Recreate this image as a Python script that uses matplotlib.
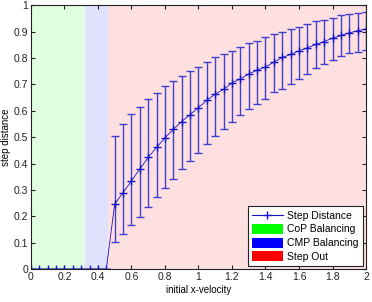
import numpy as np
import matplotlib
matplotlib.use("Agg")
import matplotlib.pyplot as plt
from matplotlib.lines import Line2D
from matplotlib.patches import Patch

plt.rcParams["font.family"] = ["Liberation Sans", "DejaVu Sans"]

# ── data ────────────────────────────────────────────────────────────────────
velocity = np.round(np.arange(0, 2.0001, 0.05), 2)
step_mean = [0, 0, 0, 0, 0, 0, 0, 0, 0, 0,
             0.246, 0.290, 0.334, 0.379, 0.423, 0.461, 0.497, 0.529, 0.559,
             0.585, 0.612, 0.639, 0.663, 0.681, 0.705, 0.721, 0.739, 0.754,
             0.766, 0.784, 0.802, 0.813, 0.827, 0.838, 0.851, 0.862, 0.875,
             0.885, 0.895, 0.903, 0.910]
step_upper = [0, 0, 0, 0, 0, 0, 0, 0, 0, 0,
              0.504, 0.549, 0.586, 0.615, 0.645, 0.669, 0.693, 0.713, 0.733,
              0.751, 0.766, 0.785, 0.802, 0.816, 0.828, 0.842, 0.855, 0.866,
              0.878, 0.890, 0.897, 0.908, 0.918, 0.927, 0.938, 0.944, 0.953,
              0.962, 0.966, 0.971, 0.975]
step_lower = [0, 0, 0, 0, 0, 0, 0, 0, 0, 0,
              0.103, 0.133, 0.167, 0.198, 0.234, 0.274, 0.308, 0.341, 0.378,
              0.408, 0.441, 0.472, 0.503, 0.532, 0.559, 0.582, 0.605, 0.625,
              0.645, 0.671, 0.684, 0.703, 0.720, 0.739, 0.760, 0.777, 0.792,
              0.807, 0.819, 0.823, 0.830]

regions = [("CoP Balancing", 0.0, 0.32, (0, 1, 0)),
           ("CMP Balancing", 0.32, 0.46, (0, 0, 1)),
           ("Step Out", 0.46, 2.0, (1, 0, 0))]

# ── plot ────────────────────────────────────────────────────────────────────
fig = plt.figure(figsize=(3.72, 3.02), dpi=100)
ax = fig.add_axes([0.083, 0.109, 0.901, 0.874])

for name, x0, x1, col in regions:
    ax.axvspan(x0, x1, color=col, alpha=0.12, lw=0)

mean = np.array(step_mean)
yerr = [mean - np.array(step_lower), np.array(step_upper) - mean]
line_col = "#1414c8"
ax.errorbar(velocity, mean, yerr=yerr, color=line_col, ecolor="#4040d0",
            elinewidth=1.0, capsize=3, capthick=1.0, lw=0.6,
            marker="+", ms=6, mew=1.0)

ax.set_xlim(0, 2)
ax.set_ylim(0, 1)
ax.set_xticks(np.arange(0, 2.01, 0.2))
ax.set_xticklabels(["0", "0.2", "0.4", "0.6", "0.8", "1", "1.2", "1.4",
                    "1.6", "1.8", "2"])
ax.set_yticks(np.arange(0, 1.01, 0.1))
ax.set_yticklabels(["0", "0.1", "0.2", "0.3", "0.4", "0.5", "0.6", "0.7",
                    "0.8", "0.9", "1"])
ax.tick_params(direction="in", top=True, right=True, length=3,
               labelsize=7.5, pad=2, colors="#222222")
ax.set_xlabel("initial x-velocity", fontsize=7, labelpad=2)
ax.set_ylabel("step distance", fontsize=7, labelpad=2)
for s in ax.spines.values():
    s.set_linewidth(0.8)
    s.set_color("#222222")

handles = [Line2D([], [], color=line_col, marker="+", ms=6, lw=0.8)]
handles += [Patch(facecolor=col, edgecolor="none") for _, _, _, col in regions]
labels = ["Step Distance"] + [r[0] for r in regions]
leg = ax.legend(handles, labels, loc="lower right", fontsize=7.5, fancybox=False,
                edgecolor="#222222", framealpha=1, borderaxespad=0.3,
                handlelength=3.0, handleheight=1.1, labelspacing=0.3,
                borderpad=0.4, handletextpad=0.4)
leg.get_frame().set_linewidth(0.8)

fig.savefig("out.png", dpi=100)
